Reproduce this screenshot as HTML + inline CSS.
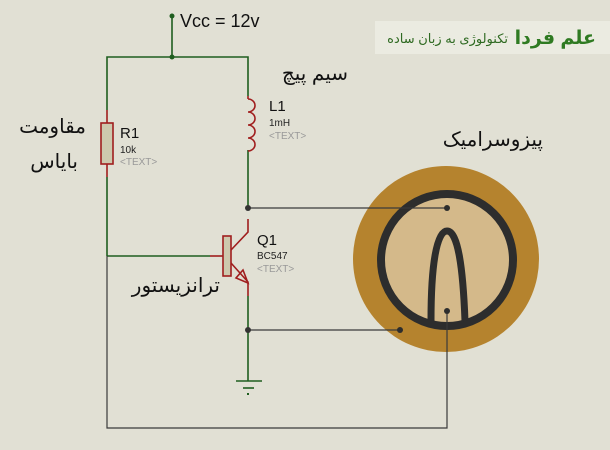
<!DOCTYPE html>
<html><head><meta charset="utf-8"><style>
body{margin:0;background:#e1e0d4;}
svg{display:block}
text{font-family:"Liberation Sans","DejaVu Sans",sans-serif}
</style></head><body>
<svg width="610" height="450" viewBox="0 0 610 450">
<rect width="610" height="450" fill="#e1e0d4"/>
<rect x="375" y="21" width="235" height="33" fill="#ebebe1"/>
<text x="596" y="44" font-size="19" font-weight="bold" fill="#2f7a22" text-anchor="end" font-family="DejaVu Sans,sans-serif">علم فردا</text>
<text x="508" y="43" font-size="13" fill="#2f6a22" text-anchor="end" font-family="DejaVu Sans,sans-serif">تکنولوژی به زبان ساده</text>
<g stroke="#1f5e1f" stroke-width="1.6" fill="none">
<line x1="172" y1="16" x2="172" y2="57"/>
<polyline points="107,110 107,57 248,57 248,96"/>
<line x1="107" y1="177" x2="107" y2="256"/>
<line x1="107" y1="256" x2="210" y2="256"/>
<line x1="248" y1="150" x2="248" y2="208"/>
<line x1="248" y1="296" x2="248" y2="381"/>
<line x1="236" y1="381" x2="262" y2="381"/>
<line x1="243" y1="388" x2="254" y2="388"/>
</g>
<circle cx="172" cy="16" r="2.5" fill="#1f5e1f"/>
<circle cx="172" cy="57" r="2.5" fill="#1f5e1f"/>
<rect x="247" y="393" width="2" height="2" fill="#1f5e1f"/>
<circle cx="446" cy="259" r="93" fill="#b5832e"/>
<circle cx="447" cy="260" r="66" fill="#d4b98a" stroke="#2d2d2d" stroke-width="8"/>
<path d="M431,321 C431,268 436,231 447,231 C458,231 463,268 465,321" fill="none" stroke="#2d2d2d" stroke-width="7"/>
<g stroke="#3a3a3a" stroke-width="1.2" fill="none">
<line x1="248" y1="208" x2="447" y2="208"/>
<line x1="248" y1="330" x2="400" y2="330"/>
<polyline points="107,256 107,428 447,428 447,311"/>
</g>
<g stroke="#a01e1e" stroke-width="1.6" fill="none">
<line x1="107" y1="110" x2="107" y2="123"/>
<line x1="107" y1="164" x2="107" y2="177"/>
<line x1="248" y1="96" x2="248" y2="99"/>
<path d="M248,99 a7,6.5 0 0 1 0,13 a7,6.5 0 0 1 0,13 a7,6.5 0 0 1 0,13 a7,6.5 0 0 1 0,13"/>
<line x1="210" y1="256" x2="223" y2="256"/>
<polyline points="231,250 248,232 248,219"/>
<polyline points="231,263 248,282 248,296"/>
<polygon points="248,283 236,278 243,270"/>
</g>
<rect x="101" y="123" width="12" height="41" fill="#cdc9ae" stroke="#a01e1e" stroke-width="1.6"/>
<rect x="223" y="236" width="8" height="40" fill="#cdc9ae" stroke="#a01e1e" stroke-width="1.6"/>
<circle cx="248" cy="208" r="3" fill="#333"/>
<circle cx="248" cy="330" r="3" fill="#333"/>
<circle cx="447" cy="208" r="3" fill="#2d2d2d"/>
<circle cx="447" cy="311" r="3" fill="#2d2d2d"/>
<circle cx="400" cy="330" r="3" fill="#2d2d2d"/>
<text x="180" y="27" font-size="18" fill="#111">Vcc = 12v</text>
<text x="120" y="138" font-size="15" fill="#111">R1</text>
<text x="120" y="153" font-size="10" fill="#222">10k</text>
<text x="120" y="165" font-size="10" fill="#999">&lt;TEXT&gt;</text>
<text x="269" y="111" font-size="15" fill="#111">L1</text>
<text x="269" y="126" font-size="10" fill="#222">1mH</text>
<text x="269" y="139" font-size="10" fill="#999">&lt;TEXT&gt;</text>
<text x="257" y="245" font-size="15" fill="#111">Q1</text>
<text x="257" y="259" font-size="10" fill="#222">BC547</text>
<text x="257" y="272" font-size="10" fill="#999">&lt;TEXT&gt;</text>
<g font-family="DejaVu Sans,sans-serif" font-size="20" fill="#111" text-anchor="end">
<text x="348" y="80">سیم پیچ</text>
<text x="86" y="133">مقاومت</text>
<text x="78" y="168">بایاس</text>
<text x="543" y="146">پیزوسرامیک</text>
<text x="220" y="292">ترانزیستور</text>
</g>
</svg>
</body></html>
